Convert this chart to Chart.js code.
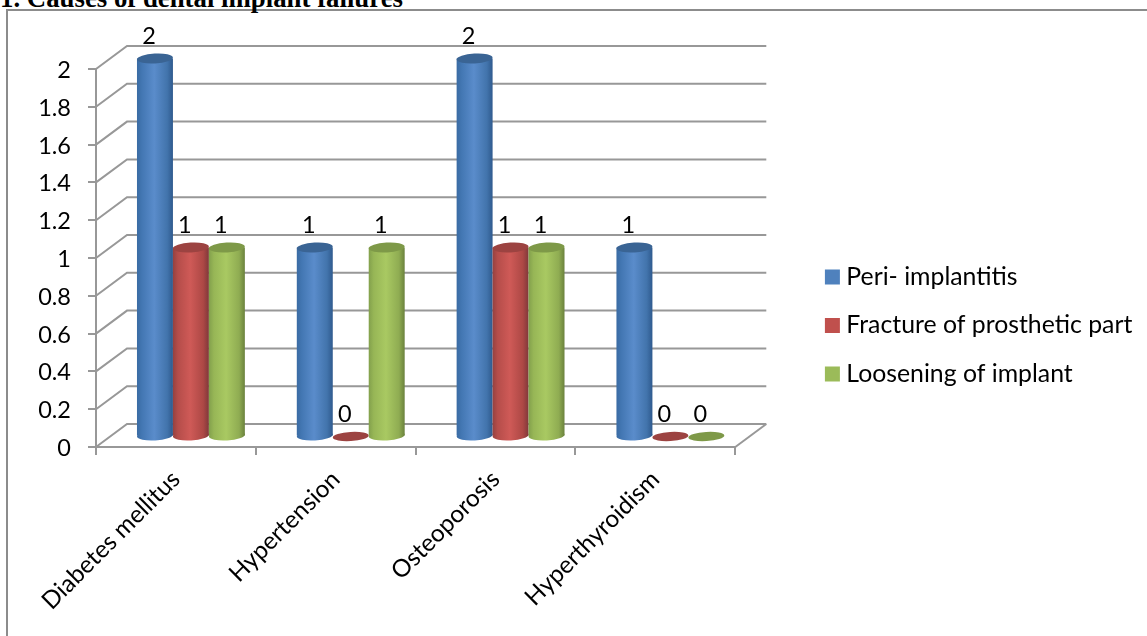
<!DOCTYPE html>
<html>
<head>
<meta charset="utf-8">
<title>Causes of dental implant failures</title>
<script src="https://cdn.jsdelivr.net/npm/chart.js@4"></script>
<style>
  html, body { margin: 0; padding: 0; background: #fff; overflow: hidden; width: 1147px; height: 636px; }
  #heading { position: absolute; left: 0; top: -16px; font: bold 26.8px/28px "Liberation Serif", serif; color: #000; white-space: nowrap; }
  #frame { position: absolute; left: 6px; top: 9px; width: 1200px; height: 700px; border: 2px solid #8c8c8c; }
  #chart { position: absolute; left: 0; top: 0; display: block; }
</style>
</head>
<body>
<div id="frame"></div>
<div id="heading">1. Causes of dental implant failures</div>
<canvas id="chart" width="1147" height="636"></canvas>
<script>
const categories = ['Diabetes mellitus', 'Hypertension', 'Osteoporosis', 'Hyperthyroidism'];
const periImplantitis = [2, 1, 2, 1];
const fractureOfProstheticPart = [1, 0, 1, 0];
const looseningOfImplant = [1, 1, 1, 0];
const yMax = 2;
const yStep = 0.2;

const LABEL_FONT = 'Lato, Carlito, sans-serif';
const GRID = '#989898';
const DEPTH_X = 31, DEPTH_Y = 23;        // floor and wall offset behind the front axes
const BAR_SHIFT_X = 15, BAR_SHIFT_Y = 10.5; // columns stand halfway into the floor
const CAP_RY = 5, CAP_TILT = -0.06;

const shades = [
  { stops: ['#3a6ba3', '#4377b3', '#5a8ccb', '#4274ac', '#2f5a8e'], cap: '#3a6494' },
  { stops: ['#954140', '#b54d4a', '#cf5a57', '#ad4845', '#80383a'], cap: '#9c4341' },
  { stops: ['#82a04c', '#97b656', '#a9c962', '#8fac52', '#6b823d'], cap: '#7e9948' }
];

function drawCylinder(ctx, bar, shade) {
  const cx = bar.x + BAR_SHIFT_X, half = bar.width / 2;
  const top = bar.y - BAR_SHIFT_Y, bottom = bar.base - BAR_SHIFT_Y;
  if (bottom - top > 0.5) {
    const g = ctx.createLinearGradient(cx - half, 0, cx + half, 0);
    [0, 0.14, 0.48, 0.84, 1].forEach((p, i) => g.addColorStop(p, shade.stops[i]));
    ctx.fillStyle = g;
    ctx.beginPath();
    ctx.ellipse(cx, bottom, half, CAP_RY, CAP_TILT, 0, Math.PI * 2);
    ctx.fill();
    ctx.fillRect(cx - half, top, bar.width, bottom - top);
  }
  ctx.fillStyle = shade.cap;
  ctx.beginPath();
  ctx.ellipse(cx, top, half, bottom - top > 0.5 ? CAP_RY : CAP_RY - 0.5, CAP_TILT, 0, Math.PI * 2);
  ctx.fill();
}

// Empty layout box that reserves room beside the plot.
function spacer(position, size) {
  const horizontal = position === 'top';
  return {
    position, weight: 500, fullSize: false, options: {},
    width: horizontal ? 0 : size, height: horizontal ? size : 0,
    isHorizontal() { return horizontal; },
    update(w, h) { if (horizontal) { this.width = w; } else { this.height = h; } },
    draw() {}
  };
}

// Floor, back wall and cylinders; the flat native rectangles are replaced.
const cylinderPlugin = {
  id: 'cylinders',
  beforeInit(chart) {
    Chart.layouts.addBox(chart, spacer('right', 71.9));
    Chart.layouts.addBox(chart, spacer('top', 54));
  },
  beforeDatasetsDraw(chart) {
    const { ctx, chartArea: area, scales } = chart;
    ctx.save();
    ctx.strokeStyle = GRID;
    ctx.lineWidth = 2;
    scales.y.ticks.forEach(t => {
      const py = scales.y.getPixelForValue(t.value);
      ctx.beginPath();
      ctx.moveTo(area.left, py);
      ctx.lineTo(area.left + DEPTH_X, py - DEPTH_Y);
      ctx.lineTo(area.right + DEPTH_X, py - DEPTH_Y);
      ctx.stroke();
    });
    ctx.beginPath();
    ctx.moveTo(area.right, area.bottom);
    ctx.lineTo(area.right + DEPTH_X, area.bottom - DEPTH_Y);
    ctx.stroke();

    chart.data.datasets.forEach((ds, i) => {
      chart.getDatasetMeta(i).data.forEach(bar => drawCylinder(ctx, bar, shades[i]));
    });

    ctx.fillStyle = '#000';
    ctx.font = '23.5px ' + LABEL_FONT;
    ctx.textAlign = 'center';
    ctx.textBaseline = 'middle';
    chart.data.datasets.forEach((ds, i) => {
      chart.getDatasetMeta(i).data.forEach((bar, j) => {
        ctx.fillText(String(ds.data[j]), bar.x + BAR_SHIFT_X - 6, bar.y - BAR_SHIFT_Y - 22.5);
      });
    });
    ctx.restore();
    return false;
  }
};

new Chart(document.getElementById('chart'), {
  type: 'bar',
  data: {
    labels: categories,
    datasets: [
      { label: 'Peri- implantitis', data: periImplantitis, backgroundColor: '#4f81bd' },
      { label: 'Fracture of prosthetic part', data: fractureOfProstheticPart, backgroundColor: '#c0504d' },
      { label: 'Loosening of implant', data: looseningOfImplant, backgroundColor: '#9bbb59' }
    ]
  },
  options: {
    responsive: false,
    animation: false,
    datasets: { bar: { categoryPercentage: 0.675, barPercentage: 1 } },
    layout: { padding: { left: 0, top: 15, bottom: 0, right: 4.7 } },
    scales: {
      x: {
        grid: { drawOnChartArea: false, color: GRID, lineWidth: 2, tickLength: 8 },
        border: { color: GRID, width: 2 },
        ticks: { color: '#000', font: { family: LABEL_FONT, size: 24.3 }, minRotation: 45, maxRotation: 45, autoSkip: false, padding: 10 },
        afterFit(scale) { scale.height = 189; }
      },
      y: {
        min: 0, max: yMax,
        grid: { drawOnChartArea: false, color: GRID, lineWidth: 2, tickLength: 8 },
        border: { color: GRID, width: 2 },
        ticks: {
          stepSize: yStep, color: '#000', padding: 17, labelOffset: 1.5,
          font: { family: LABEL_FONT, size: 23.5 },
          callback: v => String(+v.toFixed(1))
        },
        afterFit(scale) { scale.width = 96; }
      }
    },
    plugins: {
      title: { display: false },
      tooltip: { enabled: false },
      legend: {
        position: 'right',
        maxWidth: 420,
        labels: {
          boxWidth: 3, boxHeight: 3, padding: 23.7, color: '#000',
          font: { family: LABEL_FONT, size: 24.8 },
          generateLabels: chart => chart.data.datasets.map((d, i) => ({
            text: d.label, fillStyle: d.backgroundColor, strokeStyle: d.backgroundColor,
            lineWidth: 12, datasetIndex: i, hidden: false
          }))
        }
      }
    }
  },
  plugins: [cylinderPlugin]
});
</script>
</body>
</html>
